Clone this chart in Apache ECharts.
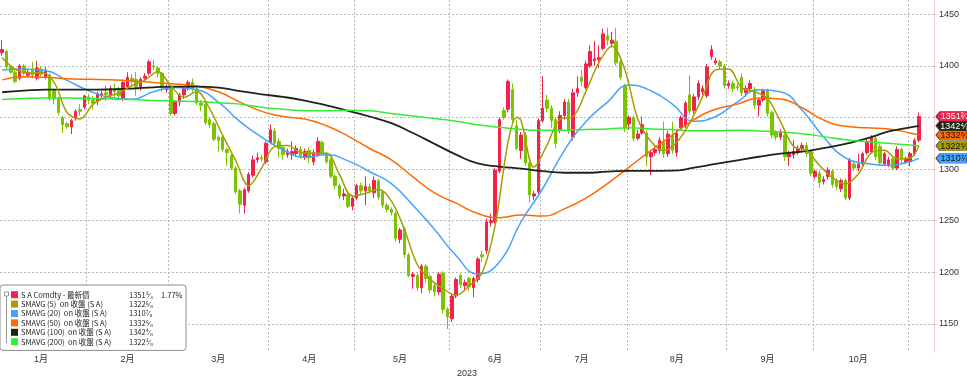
<!DOCTYPE html>
<html><head><meta charset="utf-8">
<script src="https://cdn.jsdelivr.net/npm/echarts@6/dist/echarts.min.js"></script>
<style>html,body{margin:0;padding:0;background:#fff}#c{width:967px;height:376px}</style>
</head><body><div id="c"></div>
<script>
// ---- categories ----
const monthNames = ['1月','2月','3月','4月','5月','6月','7月','8月','9月','10月','11月'];
const monthDays = [20,19,23,20,22,21,20,23,20,22,3];
const padDays = 3;
const yearLabel = '2023';
const yTicks = [1150,1200,1250,1300,1350,1400,1450];

// ---- daily candles (open, close, low, high) ----
const openP = [
1413,1414,1399,1394,1388,1400,1391,1396,1388,1397,
1389,1391,1376,1368,1350,1344,1341,1349,1358,1360,
1370,1367,1366,1371,1374,1372,1377,1376,1368,1380,
1388,1387,1380,1388,1393,1400,1398,1393,1377,1379,
1354,1365,1372,1378,1384,1378,1364,1363,1348,1344,
1331,1331,1319,1313,1301,1279,1265,1279,1294,1309,
1311,1307,1326,1337,1327,1321,1314,1314,1315,1319,
1312,1318,1307,1314,1326,1315,1309,1293,1284,1274,
1275,1264,1272,1284,1279,1283,1277,1289,1278,1265,
1261,1257,1232,1242,1217,1196,1197,1185,1206,1196,
1187,1181,1199,1164,1155,1177,1197,1187,1194,1185,
1193,1217,1221,1248,1249,1298,1357,1358,1377,1342,
1318,1333,1306,1274,1278,1347,1367,1359,1348,1338,
1352,1365,1331,1374,1389,1379,1400,1405,1406,1417,
1429,1422,1424,1404,1381,1344,1350,1330,1335,1335,
1312,1316,1318,1326,1315,1333,1316,1340,1342,1372,
1357,1370,1375,1371,1409,1403,1404,1400,1381,1383,
1380,1389,1374,1378,1377,1362,1367,1376,1355,1336,
1331,1333,1312,1314,1317,1320,1323,1317,1293,1296,
1288,1293,1298,1289,1281,1289,1272,1305,1301,1305,
1316,1317,1330,1322,1305,1304,1310,1301,1319,1307,
1307,1315,1328];
const closeP = [
1416,1399,1394,1385,1400,1393,1394,1391,1398,1392,
1396,1368,1368,1355,1343,1341,1347,1356,1356,1371,
1367,1364,1373,1373,1372,1378,1375,1371,1384,1389,
1385,1380,1387,1390,1404,1399,1393,1379,1379,1354,
1365,1372,1378,1384,1378,1364,1362,1345,1343,1329,
1328,1319,1316,1301,1278,1266,1280,1295,1309,1311,
1310,1325,1338,1325,1320,1314,1317,1317,1320,1313,
1317,1311,1316,1327,1316,1307,1293,1284,1274,1276,
1264,1272,1284,1279,1283,1279,1289,1273,1265,1261,
1258,1233,1241,1217,1197,1198,1185,1206,1194,1183,
1181,1198,1164,1157,1177,1193,1188,1190,1186,1194,
1213,1215,1249,1250,1299,1348,1350,1385,1348,1320,
1333,1306,1275,1276,1347,1359,1359,1347,1325,1352,
1365,1338,1374,1378,1385,1402,1414,1407,1408,1431,
1425,1425,1403,1389,1340,1350,1330,1334,1343,1312,
1316,1319,1328,1315,1334,1318,1335,1350,1364,1356,
1370,1383,1378,1399,1416,1405,1400,1381,1383,1378,
1379,1374,1378,1383,1362,1367,1376,1354,1333,1331,
1336,1312,1315,1317,1320,1323,1315,1296,1298,1287,
1290,1299,1285,1283,1289,1272,1309,1301,1305,1315,
1327,1331,1312,1306,1315,1309,1301,1319,1309,1310,
1315,1328,1351];
const lowP = [
1410,1397,1392,1383,1386,1391,1389,1388,1386,1390,
1387,1366,1363,1352,1335,1339,1334,1347,1352,1358,
1363,1358,1362,1369,1366,1370,1370,1368,1366,1378,
1382,1371,1376,1385,1391,1396,1389,1375,1374,1352,
1352,1361,1368,1376,1375,1362,1356,1343,1340,1327,
1317,1317,1303,1299,1276,1257,1257,1277,1292,1306,
1307,1305,1324,1322,1311,1309,1311,1309,1312,1310,
1309,1306,1304,1312,1314,1305,1291,1281,1271,1270,
1262,1260,1270,1276,1265,1276,1272,1270,1262,1258,
1255,1230,1228,1214,1195,1184,1182,1180,1190,1180,
1177,1178,1160,1145,1152,1175,1185,1183,1182,1176,
1190,1210,1218,1244,1247,1296,1348,1355,1345,1318,
1310,1303,1268,1270,1276,1345,1355,1340,1320,1335,
1348,1334,1328,1370,1380,1377,1398,1400,1398,1415,
1420,1418,1400,1386,1336,1338,1327,1328,1333,1303,
1294,1313,1315,1311,1312,1315,1312,1337,1340,1353,
1354,1367,1372,1369,1406,1401,1397,1378,1378,1375,
1376,1371,1370,1375,1358,1351,1365,1351,1330,1328,
1328,1308,1303,1310,1314,1317,1312,1293,1290,1282,
1285,1290,1282,1280,1278,1270,1270,1298,1298,1303,
1314,1315,1309,1303,1303,1302,1299,1299,1306,1305,
1303,1313,1326];
const highP = [
1425,1416,1401,1396,1402,1402,1397,1404,1405,1400,
1399,1393,1378,1370,1352,1346,1349,1358,1363,1372,
1373,1371,1375,1376,1381,1381,1383,1380,1387,1394,
1392,1394,1389,1393,1406,1406,1400,1394,1382,1381,
1367,1374,1380,1386,1388,1380,1367,1365,1350,1346,
1333,1333,1321,1315,1303,1281,1282,1297,1313,1316,
1314,1327,1343,1340,1330,1323,1320,1327,1323,1322,
1320,1321,1319,1331,1328,1317,1311,1295,1286,1281,
1277,1274,1286,1287,1293,1286,1293,1291,1280,1267,
1263,1259,1243,1244,1219,1200,1199,1208,1208,1198,
1190,1200,1201,1166,1179,1195,1199,1193,1196,1196,
1215,1221,1252,1257,1301,1350,1360,1387,1383,1348,
1336,1336,1308,1279,1349,1390,1372,1362,1350,1356,
1368,1368,1378,1390,1396,1405,1420,1424,1420,1436,
1437,1433,1437,1406,1383,1352,1352,1338,1351,1337,
1318,1322,1331,1346,1337,1346,1338,1352,1366,1391,
1373,1386,1381,1402,1420,1408,1406,1402,1386,1386,
1383,1393,1381,1386,1380,1369,1378,1378,1357,1338,
1339,1336,1318,1328,1323,1326,1326,1319,1300,1299,
1293,1302,1300,1291,1291,1291,1311,1308,1315,1317,
1330,1333,1333,1324,1317,1312,1312,1322,1321,1312,
1317,1330,1355];

// ---- moving averages (day index, value) ----
const sma5Idx = [0,3,6,9,12,15,18,21,24,27,30,33,36,39,42,45,48,51,54,57,60,63,66,69,72,75,78,81,84,87,90,93,96,99,102,105,108,111,114,117,119,120,123,126,129,132,135,138,141,144,147,150,153,156,159,162,165,168,171,174,177,180,183,186,189,192,195,198,201,204,207,210,212];
const sma5 = [1408,1397,1393.2,1393.6,1384.4,1355,1348.6,1362.8,1369.8,1373.8,1380.8,1386.2,1394.6,1380.8,1369.6,1375.2,1358.4,1332.8,1308.4,1284,1301,1321.8,1322.8,1316.2,1315.4,1315.4,1294.8,1274,1276.4,1280.6,1269.2,1242,1207.6,1193.2,1184,1177.8,1186.8,1199.6,1245.2,1326.4,1350.2,1347.2,1302,1323.2,1348.4,1350.8,1375.4,1403.2,1419.2,1396.4,1348.6,1327,1318,1326,1344.6,1370.2,1396.2,1397,1379,1375.2,1368.4,1346,1322.2,1318,1303.8,1291.8,1285.6,1295.2,1315.8,1318.2,1310,1310.8,1322.6];
const maIdx = [0,5,10,15,20,25,30,35,40,45,50,55,60,65,70,75,80,85,90,95,100,105,110,115,120,125,130,135,140,145,150,155,160,165,170,175,180,185,190,195,200,205,210,212];
const sma20 = [1396,1397,1395.5,1386,1376,1369.5,1367.8,1375,1379,1377,1365,1346,1331,1318.5,1311.5,1314,1308,1297.5,1286,1265,1241.5,1216,1198.5,1210,1249,1281,1318,1346,1365,1381.5,1376,1363,1346.5,1351,1365,1377,1375,1357,1331,1311,1305.5,1303.5,1307.5,1310.5];
const sma50 = [1386.5,1389.5,1389,1387.7,1387,1386.5,1385.5,1384,1382.5,1380.5,1375,1365,1356,1351,1348.5,1342,1332,1320,1309,1292.5,1277,1267,1257,1253,1255.5,1254.5,1261.5,1272,1286,1302,1318,1333,1348,1358,1363,1369,1368,1359.5,1347.5,1341.5,1340,1339,1335,1333];
const sma100 = [1374.5,1376,1377,1377,1377,1377.3,1378,1379.3,1380,1380,1379,1375.5,1372.5,1370,1366.5,1361.8,1356.5,1351,1344.5,1335,1324.5,1314,1305.5,1302.5,1300.5,1298,1296.5,1296.5,1297.6,1298.4,1298.4,1298.5,1301.4,1305,1308.5,1312,1315,1317,1320.3,1324.5,1329.7,1336.5,1340.5,1342];
const sma200 = [1367.4,1368.5,1369,1369,1368.5,1368,1367.5,1366.5,1366,1365.5,1364.3,1363,1360,1358,1356.5,1356.5,1357,1356.5,1354,1351.5,1349,1346.5,1343,1340.5,1338.5,1337.7,1337.7,1338.5,1339,1340,1339,1338.4,1337.2,1337.3,1337.7,1337,1336,1334.2,1331.5,1328.5,1326.5,1325,1323.3,1322.6];

// ---- legend / tags text ----
const seriesNames = ['S A Comdty - 最新價','SMAVG (5)  on 收盤 (S A)','SMAVG (20)  on 收盤 (S A)','SMAVG (50)  on 收盤 (S A)','SMAVG (100)  on 收盤 (S A)','SMAVG (200)  on 收盤 (S A)'];
const lastText = ['1351²⁄₄','1322⁵⁄₈','1310⁷⁄₈','1332⁶⁄₈','1342⁴⁄₈','1322²⁄₈'];
const pctText = ['1.77%','','','','',''];
const colors = ['#f2224c','#a69e00','#47a3ff','#ff6a00','#1d2616','#33ee33'];
const downColor = '#7dc400';

// ---- build ----
const cats = [];
const monthStart = new Set();
const labelAt = new Set();
let k = 0;
monthDays.forEach((n, m) => {
  monthStart.add(k);
  if (n >= 10) labelAt.add(k + Math.floor((n - 1) / 2));
  for (let d = 0; d < n; d++) cats.push(monthNames[m] + '#' + (d + 1));
  k += n;
});
monthStart.add(k);
for (let p = 0; p < padDays; p++) cats.push('#pad' + p);
const lastIdx = closeP.length - 1;

const candles = openP.map((o, i) => [o, closeP[i], lowP[i], highP[i]]);
const pairs = (idx, vals) => idx.map((x, i) => [x, vals[i]]);
const maSets = [[sma5Idx, sma5], [maIdx, sma20], [maIdx, sma50], [maIdx, sma100], [maIdx, sma200]];

const gridDash = { color: '#b8b8b8', width: 1, type: [2, 2] };
const fontF = "'Liberation Sans','Noto Sans CJK TC',sans-serif";
const legF = "'Noto Sans CJK TC','Noto Sans CJK SC',sans-serif";

const tagOrder = [2, 1, 3, 4, 0];
const tagTextColor = ['#fff', '#111', '#111', '#111', '#fff', '#111'];
const lastVals = [closeP[lastIdx], sma5[sma5.length - 1], sma20[sma20.length - 1], sma50[sma50.length - 1], sma100[sma100.length - 1], sma200[sma200.length - 1]];

const series = [{
  type: 'candlestick', name: seriesNames[0], data: candles, barWidth: 3, z: 2,
  itemStyle: { color: colors[0], color0: downColor, borderColor: colors[0], borderColor0: downColor, borderWidth: 1 },
  markLine: {
    silent: true, symbol: ['none', 'none'], z: 1, animation: false,
    label: { show: false }, lineStyle: gridDash, emphasis: { disabled: true },
    data: yTicks.map(v => ({ yAxis: v }))
  }
}];
maSets.forEach((s, j) => {
  series.push({
    type: 'line', name: seriesNames[j + 1], data: pairs(s[0], s[1]),
    symbol: 'none', showSymbol: false, smooth: j === 0 ? 0.35 : 0.5, z: 3 + (j === 0 ? 4 : 0),
    lineStyle: { color: colors[j + 1], width: j === 3 ? 1.8 : 1.5 },
    itemStyle: { color: colors[j + 1] }
  });
});
series.push({
  type: 'line', name: '_tags', data: [], silent: true, z: 10,
  markPoint: {
    silent: true, animation: false,
    symbol: 'path://M0,6 L5,0 L40,0 L40,12 L5,12 Z', symbolSize: [34, 10], symbolOffset: [34, 0],
    data: tagOrder.map(j => ({
      name: lastText[j], coord: [lastIdx, lastVals[j]],
      itemStyle: { color: colors[j], borderColor: '#333', borderWidth: 0.6 },
      label: { show: true, formatter: '{b}', color: tagTextColor[j], fontSize: 9, fontFamily: fontF, offset: [2, 0.5] }
    }))
  }
});

const chart = echarts.init(document.getElementById('c'), null, { renderer: 'canvas' });
chart.setOption({
  animation: false,
  backgroundColor: '#fff',
  color: colors,
  grid: { left: 0, right: 33, top: 0, bottom: 24, containLabel: false, outerBoundsMode: 'none' },
  xAxis: {
    type: 'category', data: cats, boundaryGap: true,
    axisLine: { show: false }, axisTick: { show: false },
    axisLabel: { interval: (i) => labelAt.has(i), formatter: v => v.split('#')[0], margin: 3, fontSize: 9, color: '#333', fontFamily: fontF },
    splitLine: { show: true, interval: (i) => i > 0 && monthStart.has(i) && i < closeP.length, lineStyle: gridDash },
    name: yearLabel, nameLocation: 'middle', nameGap: 10, nameTextStyle: { fontSize: 9, color: '#333', fontFamily: fontF }
  },
  yAxis: {
    type: 'value', position: 'right', min: 1122.8, max: 1463.9, scale: true,
    splitLine: { show: false },
    axisLine: { show: true, lineStyle: { color: '#f6cad3' } },
    axisTick: { show: true, length: 3, lineStyle: { color: '#f6cad3' } },
    axisLabel: { showMinLabel: false, showMaxLabel: false, margin: 5, fontSize: 9, color: '#333', fontFamily: fontF,
      formatter: v => (Math.abs(v % 50) < 1e-6 ? String(v) : '') }
  },
  legend: {
    orient: 'vertical', left: 0, top: 285, icon: 'rect', itemWidth: 7, itemHeight: 7, itemGap: 0,
    padding: [5, 3, 4, 11], backgroundColor: '#fff', borderColor: '#8c8c8c', borderWidth: 1, borderRadius: 3,
    selectedMode: false,
    data: seriesNames.map((n, i) => ({ name: n, itemStyle: { color: colors[i], borderWidth: 0 } })),
    formatter: name => { const i = seriesNames.indexOf(name); return '{n|' + name + '}{v|' + lastText[i] + '}{p|' + pctText[i] + '}'; },
    textStyle: { fontSize: 7.5, lineHeight: 9.4, color: '#222', fontFamily: legF, padding: [0, 0, 0, -2],
      rich: { n: { width: 108, fontSize: 7.5, lineHeight: 9.4, color: '#222', fontFamily: legF },
              v: { width: 32, fontSize: 7.5, lineHeight: 9.4, color: '#222', fontFamily: legF },
              p: { width: 22, fontSize: 7.5, lineHeight: 9.4, color: '#222', fontFamily: legF } } }
  },
  graphic: [
    { type: 'line', shape: { x1: 6.5, y1: 293, x2: 6.5, y2: 343 }, style: { stroke: '#999', lineWidth: 1 }, z: 100 },
    { type: 'rect', shape: { x: 4.5, y: 292, width: 4, height: 4 }, style: { fill: '#fff', stroke: '#999' }, z: 100 }
  ],
  series: series
});
</script>
</body></html>
